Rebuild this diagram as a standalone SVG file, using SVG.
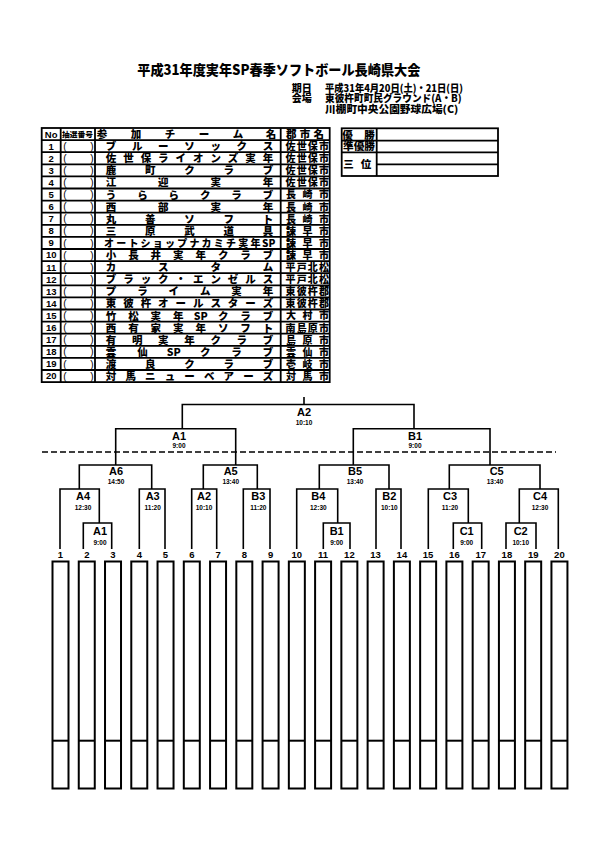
<svg xmlns="http://www.w3.org/2000/svg" width="595" height="842" viewBox="0 0 595 842">
<style>
.jp{font-family:"Noto Sans CJK JP","Noto Sans CJK SC",sans-serif;font-weight:900;fill:#000}
.nm{font-size:10.5px;text-anchor:middle}
.ct{font-size:10px;text-anchor:middle}
.no{font-family:"Liberation Sans",Arial,sans-serif;font-weight:bold;font-size:9.5px;text-anchor:middle}
.pa{font-family:"Liberation Sans",Arial,sans-serif;font-size:10px;text-anchor:middle}
.lb{font-family:"Liberation Sans",Arial,sans-serif;font-weight:bold;font-size:11px;text-anchor:middle}
.tm{font-family:"Liberation Sans",Arial,sans-serif;font-weight:bold;font-size:6.5px;text-anchor:middle}
.ln{fill:none;stroke:#000;stroke-width:1.8}
.br{fill:none;stroke:#000;stroke-width:1.6}
.bx{fill:#fff;stroke:#000;stroke-width:2}
</style>
<rect width="595" height="842" fill="#fff"/>

<g id="title">
<text class="jp" x="137.3" y="75.3" font-size="14" textLength="283" lengthAdjust="spacingAndGlyphs">平成31年度実年SP春季ソフトボール長崎県大会</text>
<text class="jp" x="291.7" y="91.5" font-size="10" textLength="20" lengthAdjust="spacingAndGlyphs">期日</text>
<text class="jp" x="325" y="91.5" font-size="10" textLength="138" lengthAdjust="spacingAndGlyphs">平成31年4月20日(土)・21日(日)</text>
<text class="jp" x="291.7" y="102.3" font-size="10" textLength="20" lengthAdjust="spacingAndGlyphs">会場</text>
<text class="jp" x="325" y="102.3" font-size="10" textLength="136.7" lengthAdjust="spacingAndGlyphs">東彼杵町町民グラウンド(A・B)</text>
<text class="jp" x="325" y="113.3" font-size="10" textLength="133.3" lengthAdjust="spacingAndGlyphs">川棚町中央公園野球広場(C)</text>
</g>

<g id="team-table">
<rect class="ln" x="41.7" y="128" width="288" height="254.1"/>
<path class="ln" d="M60.7 128V382.1M95 128V382.1M280.7 128V382.1
M41.7 140.1H329.7M41.7 152.2H329.7M41.7 164.3H329.7M41.7 176.4H329.7M41.7 188.5H329.7M41.7 200.6H329.7M41.7 212.7H329.7M41.7 224.8H329.7M41.7 236.9H329.7M41.7 249H329.7M41.7 261.1H329.7M41.7 273.2H329.7M41.7 285.3H329.7M41.7 297.4H329.7M41.7 309.5H329.7M41.7 321.6H329.7M41.7 333.7H329.7M41.7 345.8H329.7M41.7 357.9H329.7M41.7 370H329.7"/>
<text class="no" x="51.2" y="137.5" font-size="8">No</text>
<text class="jp" x="62" y="137" font-size="7.3" textLength="31" lengthAdjust="spacingAndGlyphs">抽選番号</text>
<text class="jp nm" x="102 136 170 204 238 271" y="138">参加チーム名</text>
<text class="jp" x="286" y="138" font-size="10.5" textLength="38" lengthAdjust="spacing">郡市名</text>

<g class="no">
<text x="51.2" y="149.5">1</text><text x="51.2" y="161.6">2</text><text x="51.2" y="173.7">3</text><text x="51.2" y="185.8">4</text><text x="51.2" y="197.9">5</text>
<text x="51.2" y="210">6</text><text x="51.2" y="222.1">7</text><text x="51.2" y="234.2">8</text><text x="51.2" y="246.3">9</text><text x="51.2" y="258.4">10</text>
<text x="51.2" y="270.5">11</text><text x="51.2" y="282.6">12</text><text x="51.2" y="294.7">13</text><text x="51.2" y="306.8">14</text><text x="51.2" y="318.9">15</text>
<text x="51.2" y="331">16</text><text x="51.2" y="343.1">17</text><text x="51.2" y="355.2">18</text><text x="51.2" y="367.3">19</text><text x="51.2" y="379.4">20</text>
</g>
<g class="pa">
<text x="65" y="149.7">(</text><text x="92" y="149.7">)</text>
<text x="65" y="161.8">(</text><text x="92" y="161.8">)</text>
<text x="65" y="173.9">(</text><text x="92" y="173.9">)</text>
<text x="65" y="186">(</text><text x="92" y="186">)</text>
<text x="65" y="198.1">(</text><text x="92" y="198.1">)</text>
<text x="65" y="210.2">(</text><text x="92" y="210.2">)</text>
<text x="65" y="222.3">(</text><text x="92" y="222.3">)</text>
<text x="65" y="234.4">(</text><text x="92" y="234.4">)</text>
<text x="65" y="246.5">(</text><text x="92" y="246.5">)</text>
<text x="65" y="258.6">(</text><text x="92" y="258.6">)</text>
<text x="65" y="270.7">(</text><text x="92" y="270.7">)</text>
<text x="65" y="282.8">(</text><text x="92" y="282.8">)</text>
<text x="65" y="294.9">(</text><text x="92" y="294.9">)</text>
<text x="65" y="307">(</text><text x="92" y="307">)</text>
<text x="65" y="319.1">(</text><text x="92" y="319.1">)</text>
<text x="65" y="331.2">(</text><text x="92" y="331.2">)</text>
<text x="65" y="343.3">(</text><text x="92" y="343.3">)</text>
<text x="65" y="355.4">(</text><text x="92" y="355.4">)</text>
<text x="65" y="367.5">(</text><text x="92" y="367.5">)</text>
<text x="65" y="379.6">(</text><text x="92" y="379.6">)</text>
</g>

<g class="jp nm">
<text x="111 137.17 163.33 189.5 215.67 241.83 268" y="150.1">ブルーソックス</text>
<text x="111 128.44 145.89 163.33 180.78 198.22 215.67 233.11 250.56 268" y="162.2">佐世保ライオンズ実年</text>
<text x="111 150.25 189.5 228.75 268" y="174.3">鹿町クラブ</text>
<text x="111 163.33 215.67 268" y="186.4">江迎実年</text>
<text x="111 142.4 173.8 205.2 236.6 268" y="198.5">うららクラブ</text>
<text x="111 163.33 215.67 268" y="210.6">西部実年</text>
<text x="111 150.25 189.5 228.75 268" y="222.7">丸善ソフト</text>
<text x="111 150.25 189.5 228.75 268" y="234.8">三原武道具</text>
<text y="246.9" font-size="10"><tspan x="109 121.2 133.4 145.6 157.8 170 182.2 194.4 206.6 218.8 231 243.2 255.4">オートショップナカミチ実年</tspan><tspan x="262" text-anchor="start">SP</tspan></text>
<text x="111 133.43 155.86 178.29 200.71 223.14 245.57 268" y="259">小長井実年クラブ</text>
<text x="111 163.33 215.67 268" y="271.1">カスタム</text>
<text x="111 128.44 145.89 163.33 180.78 198.22 215.67 233.11 250.56 268" y="283.2">ブラック・エンゼルス</text>
<text x="111 142.4 173.8 205.2 236.6 268" y="295.3">プライム実年</text>
<text x="111 128.44 145.89 163.33 180.78 198.22 215.67 233.11 250.56 268" y="307.4">東彼杵オールスターズ</text>
<text y="319.5"><tspan x="111 133.43 155.86 178.29">竹松実年</tspan><tspan x="200.71">SP</tspan><tspan x="223.14 245.57 268">クラブ</tspan></text>
<text x="111 133.43 155.86 178.29 200.71 223.14 245.57 268" y="331.6">西有家実年ソフト</text>
<text x="111 137.17 163.33 189.5 215.67 241.83 268" y="343.7">有明実年クラブ</text>
<text y="355.8"><tspan x="111 142.4">雲仙</tspan><tspan x="173.8">SP</tspan><tspan x="205.2 236.6 268">クラブ</tspan></text>
<text x="111 150.25 189.5 228.75 268" y="367.9">渡良クラブ</text>
<text x="111 130.63 150.25 169.88 189.5 209.13 228.75 248.38 268" y="380">対馬ニューベアーズ</text>
</g>

<g class="jp ct">
<text x="290.5 301.67 312.83 324" y="150">佐世保市</text>
<text x="290.5 301.67 312.83 324" y="162.1">佐世保市</text>
<text x="290.5 301.67 312.83 324" y="174.2">佐世保市</text>
<text x="290.5 301.67 312.83 324" y="186.3">佐世保市</text>
<text x="291 307.5 324" y="198.4">長崎市</text>
<text x="291 307.5 324" y="210.5">長崎市</text>
<text x="291 307.5 324" y="222.6">長崎市</text>
<text x="291 307.5 324" y="234.7">諫早市</text>
<text x="291 307.5 324" y="246.8">諫早市</text>
<text x="291 307.5 324" y="258.9">諫早市</text>
<text x="290.5 301.67 312.83 324" y="271">平戸北松</text>
<text x="290.5 301.67 312.83 324" y="283.1">平戸北松</text>
<text x="290.5 301.67 312.83 324" y="295.2">東彼杵郡</text>
<text x="290.5 301.67 312.83 324" y="307.3">東彼杵郡</text>
<text x="291 307.5 324" y="319.4">大村市</text>
<text x="290.5 301.67 312.83 324" y="331.5">南島原市</text>
<text x="291 307.5 324" y="343.6">島原市</text>
<text x="291 307.5 324" y="355.7">雲仙市</text>
<text x="291 307.5 324" y="367.8">壱岐市</text>
<text x="291 307.5 324" y="379.9">対馬市</text>
</g>
</g>

<g id="result-box">
<rect class="ln" x="341.7" y="128.3" width="156.3" height="47.7"/>
<path class="ln" d="M376.7 128.3V176M341.7 140.7H498M341.7 152.3H498M376.7 164.3H498"/>
<text class="jp nm" x="347.5 369.5" y="138.5">優勝</text>
<text class="jp" x="343" y="150.3" font-size="10" textLength="32" lengthAdjust="spacingAndGlyphs">準優勝</text>
<text class="jp nm" x="348.5 366" y="168">三位</text>
</g>

<g id="connectors">
<path class="br" d="M304 397V404.5M182.3 428.7V404.5H414V428.7"/>
<path class="br" d="M115.7 465V428.7H235.7V465M353.3 465V428.7H490V465"/>
<path class="br" d="M79.3 489V465H151.7V489M203.3 489V465H257.3V489M319.3 489V465H389V489M449.3 489V465H540V489"/>
<path class="br" d="M60 549V489H99.3V523M139.3 549V489H165V549M191.7 549V489H216.7V549M243.3 549V489H270V549"/>
<path class="br" d="M296.7 549V489H337.7V523M376 549V489H401V549M428.3 549V489H468.3V523M519.3 523V489H558.3V549"/>
<path class="br" d="M83.3 549V523H111.7V549M323.3 549V523H350V549M453.3 549V523H481.7V549M506 549V523H536V549"/>
<path d="M42 452H556" fill="none" stroke="#000" stroke-width="1.5" stroke-dasharray="6 3"/>
</g>

<g id="match-A2-final"><text class="lb" x="304" y="416">A2</text><text class="tm" x="304" y="424.5">10:10</text></g>
<g id="match-A1-semi"><text class="lb" x="179" y="439.5">A1</text><text class="tm" x="179" y="448.3">9:00</text></g>
<g id="match-B1-semi"><text class="lb" x="415" y="439.5">B1</text><text class="tm" x="415" y="448.3">9:00</text></g>
<g id="match-A6"><text class="lb" x="116" y="475">A6</text><text class="tm" x="116" y="484">14:50</text></g>
<g id="match-A5"><text class="lb" x="230.7" y="475">A5</text><text class="tm" x="230.7" y="484">13:40</text></g>
<g id="match-B5"><text class="lb" x="355" y="475">B5</text><text class="tm" x="355" y="484">13:40</text></g>
<g id="match-C5"><text class="lb" x="496.7" y="475">C5</text><text class="tm" x="495" y="484">13:40</text></g>
<g id="match-A4"><text class="lb" x="83" y="500">A4</text><text class="tm" x="83" y="509.5">12:30</text></g>
<g id="match-A3"><text class="lb" x="152.7" y="500">A3</text><text class="tm" x="152.7" y="509.5">11:20</text></g>
<g id="match-A2"><text class="lb" x="204" y="500">A2</text><text class="tm" x="204" y="509.5">10:10</text></g>
<g id="match-B3"><text class="lb" x="258.3" y="500">B3</text><text class="tm" x="258.3" y="509.5">11:20</text></g>
<g id="match-B4"><text class="lb" x="318.3" y="500">B4</text><text class="tm" x="318.3" y="509.5">12:30</text></g>
<g id="match-B2"><text class="lb" x="389.3" y="500">B2</text><text class="tm" x="389.3" y="509.5">10:10</text></g>
<g id="match-C3"><text class="lb" x="450" y="500">C3</text><text class="tm" x="450" y="509.5">11:20</text></g>
<g id="match-C4"><text class="lb" x="540" y="500">C4</text><text class="tm" x="540" y="509.5">12:30</text></g>
<g id="match-A1"><text class="lb" x="100" y="535">A1</text><text class="tm" x="100" y="545">9:00</text></g>
<g id="match-B1"><text class="lb" x="336.7" y="535">B1</text><text class="tm" x="336.7" y="545">9:00</text></g>
<g id="match-C1"><text class="lb" x="466.7" y="535" font-size="9">C1</text><text class="tm" x="466.7" y="545">9:00</text></g>
<g id="match-C2"><text class="lb" x="520.7" y="535">C2</text><text class="tm" x="520.7" y="545">10:10</text></g>

<g id="slots" class="no">
<text x="60.5" y="558.3">1</text><text x="86.8" y="558.3">2</text><text x="113" y="558.3">3</text><text x="139.3" y="558.3">4</text><text x="165.5" y="558.3">5</text>
<text x="191.8" y="558.3">6</text><text x="218.1" y="558.3">7</text><text x="244.3" y="558.3">8</text><text x="270.6" y="558.3">9</text><text x="296.8" y="558.3">10</text>
<text x="323.1" y="558.3">11</text><text x="349.4" y="558.3">12</text><text x="375.6" y="558.3">13</text><text x="401.9" y="558.3">14</text><text x="428.1" y="558.3">15</text>
<text x="454.4" y="558.3">16</text><text x="480.7" y="558.3">17</text><text x="506.9" y="558.3">18</text><text x="533.2" y="558.3">19</text><text x="559.4" y="558.3">20</text>
</g>

<defs>
<g id="slot"><rect class="bx" x="0" y="561.5" width="16" height="227"/><path d="M0 740.7H16" stroke="#000" stroke-width="2"/></g>
</defs>
<g id="slot-boxes">
<use href="#slot" x="52.5"/><use href="#slot" x="78.76"/><use href="#slot" x="105.02"/><use href="#slot" x="131.28"/><use href="#slot" x="157.54"/>
<use href="#slot" x="183.8"/><use href="#slot" x="210.06"/><use href="#slot" x="236.32"/><use href="#slot" x="262.58"/><use href="#slot" x="288.84"/>
<use href="#slot" x="315.1"/><use href="#slot" x="341.36"/><use href="#slot" x="367.62"/><use href="#slot" x="393.88"/><use href="#slot" x="420.14"/>
<use href="#slot" x="446.4"/><use href="#slot" x="472.66"/><use href="#slot" x="498.92"/><use href="#slot" x="525.18"/><use href="#slot" x="551.44"/>
</g>
</svg>
